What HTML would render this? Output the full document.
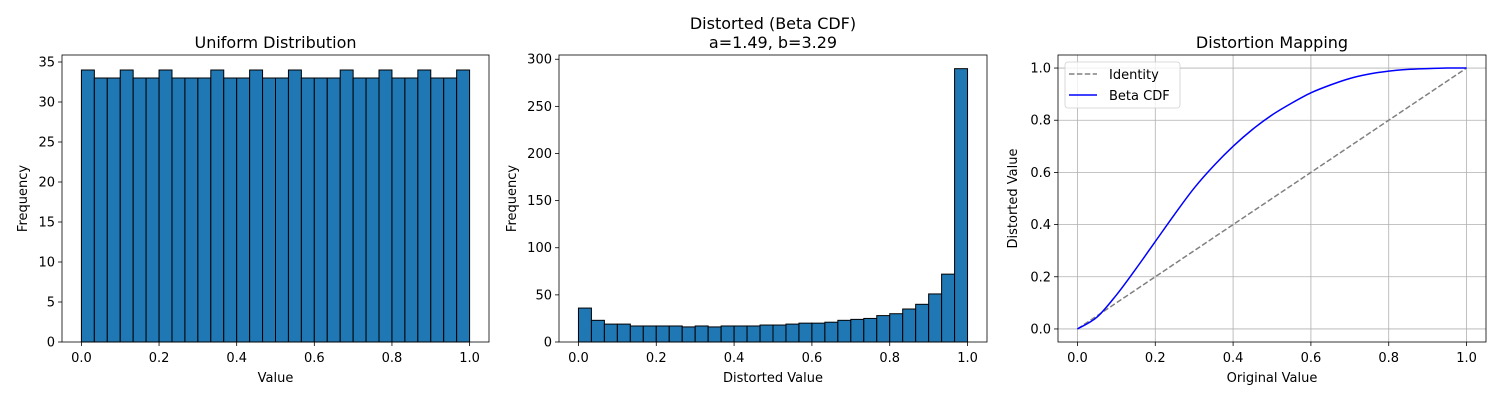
<!DOCTYPE html>
<html><head><meta charset="utf-8"><style>
body{margin:0;background:#fff;font-family:"Liberation Sans","DejaVu Sans",sans-serif;}
svg text{font-family:"DejaVu Sans","Liberation Sans",sans-serif;}
</style></head><body>
<svg id="fig" width="1500" height="400" xmlns="http://www.w3.org/2000/svg"></svg>
<script>
const uniformCounts=[34,33,33,34,33,33,34,33,33,33,34,33,33,34,33,33,34,33,33,33,34,33,33,34,33,33,34,33,33,34];
const distortedCounts=[36,23,19,19,17,17,17,17,16,17,16,17,17,17,18,18,19,20,20,21,23,24,25,28,30,35,40,51,72,290];
const curveX=[0,0.05,0.1,0.15,0.2,0.25,0.3,0.35,0.4,0.45,0.5,0.55,0.6,0.65,0.7,0.75,0.8,0.85,0.9,0.95,1];
const curveY=[0,0.045,0.13,0.23,0.335,0.44,0.54,0.625,0.70,0.765,0.82,0.865,0.905,0.935,0.96,0.977,0.988,0.995,0.998,1,1];
const xTicks=[0,0.2,0.4,0.6,0.8,1.0];
const y1Ticks=[0,5,10,15,20,25,30,35];
const y2Ticks=[0,50,100,150,200,250,300];
const y3Ticks=[0,0.2,0.4,0.6,0.8,1.0];
const NS="http://www.w3.org/2000/svg";
const svg=document.getElementById('fig');
function mk(tag,attrs,parent,text){const e=document.createElementNS(NS,tag);for(const k in attrs)e.setAttribute(k,attrs[k]);if(text!==undefined)e.textContent=text;(parent||svg).appendChild(e);return e;}
function panel(L,R,T,B,xmin,xmax,ymin,ymax,name){
  const g=mk('g',{});
  
  
  return {g,L,R,T,B,sx:v=>L+(v-xmin)/(xmax-xmin)*(R-L),sy:v=>B-(v-ymin)/(ymax-ymin)*(B-T)};
}
function axes(p,yt,fmtY,xlabel,ylabel,title,grid,ylx){
  if(grid){
    xTicks.forEach(v=>{const l=mk('line',{x1:p.sx(v),x2:p.sx(v),y1:p.T,y2:p.B,stroke:'#b0b0b0','stroke-width':0.8},p.g);});
    yt.forEach(v=>{const l=mk('line',{x1:p.L,x2:p.R,y1:p.sy(v),y2:p.sy(v),stroke:'#b0b0b0','stroke-width':0.8},p.g);});
  }
  xTicks.forEach(v=>{const x=p.sx(v);mk('line',{x1:x,x2:x,y1:p.B,y2:p.B+4,stroke:'#000','stroke-width':0.8},p.g);
    const t=mk('text',{x:x,y:p.B+20,'font-size':13,'text-anchor':'middle'},p.g,v.toFixed(1));});
  yt.forEach(v=>{const y=p.sy(v);mk('line',{x1:p.L-4,x2:p.L,y1:y,y2:y,stroke:'#000','stroke-width':0.8},p.g);
    const t=mk('text',{x:p.L-7,y:y+4.5,'font-size':13,'text-anchor':'end'},p.g,fmtY(v));});
  const r=mk('rect',{x:p.L,y:p.T,width:p.R-p.L,height:p.B-p.T,fill:'none',stroke:'#000','stroke-width':0.8},p.g);
  
  const xl=mk('text',{x:(p.L+p.R)/2,y:p.B+40,'font-size':13,'text-anchor':'middle'},p.g,xlabel);
  
  const yx=ylx;
  const yl=mk('text',{x:yx,y:(p.T+p.B)/2,'font-size':13,'text-anchor':'middle',transform:`rotate(-90 ${yx} ${(p.T+p.B)/2})`},p.g,ylabel);
  
  title.forEach((s,i)=>{const t=mk('text',{x:(p.L+p.R)/2,y:p.T-7-(title.length-1-i)*19,'font-size':16,'text-anchor':'middle'},p.g,s);});
}
function hist(p,counts){
  const n=counts.length;
  counts.forEach((c,i)=>{const x0=p.sx(i/n),x1=p.sx((i+1)/n),y=p.sy(c);
    const b=mk('rect',{x:x0,y:y,width:x1-x0,height:p.sy(0)-y,fill:'#1f77b4',stroke:'#000','stroke-width':1},p.g);
    });
}
const p1=panel(62,489,55,342,-0.05,1.05,0,35.875,'uniform-histogram');
hist(p1,uniformCounts);
axes(p1,y1Ticks,v=>String(v),'Value','Frequency',['Uniform Distribution'],false,27);
const p2=panel(559,987,55,342,-0.05,1.05,0,304.5,'distorted-histogram');
hist(p2,distortedCounts);
axes(p2,y2Ticks,v=>String(v),'Distorted Value','Frequency',['Distorted (Beta CDF)','a=1.49, b=3.29'],false,516);
const p3=panel(1058,1486,55,342,-0.05,1.05,-0.05,1.05,'distortion-mapping');
axes(p3,y3Ticks,v=>v.toFixed(1),'Original Value','Distorted Value',['Distortion Mapping'],true,1017);
const idl=mk('line',{x1:p3.sx(0),y1:p3.sy(0),x2:p3.sx(1),y2:p3.sy(1),stroke:'#808080','stroke-width':1.5,'stroke-dasharray':'5.5,2.4'},p3.g);

const pts=curveX.map((x,i)=>[p3.sx(x),p3.sy(curveY[i])]);
let d='M'+pts[0][0]+','+pts[0][1];
for(let i=0;i<pts.length-1;i++){const p0=pts[Math.max(0,i-1)],a=pts[i],b=pts[i+1],p4=pts[Math.min(pts.length-1,i+2)];
  d+=` C${a[0]+(b[0]-p0[0])/6},${a[1]+(b[1]-p0[1])/6} ${b[0]-(p4[0]-a[0])/6},${b[1]-(p4[1]-a[1])/6} ${b[0]},${b[1]}`;}
const cl=mk('path',{d:d,fill:'none',stroke:'#0000ff','stroke-width':1.5},p3.g);

const lg=mk('g',{},p3.g);

mk('rect',{x:1065,y:62,width:115,height:46,rx:3,fill:'#fff','fill-opacity':0.8,stroke:'#d0d0d0','stroke-width':0.8},lg);
mk('line',{x1:1069,x2:1097,y1:74,y2:74,stroke:'#808080','stroke-width':1.5,'stroke-dasharray':'5.5,2.4'},lg);
const t1=mk('text',{x:1109,y:79,'font-size':13},lg,'Identity');
mk('line',{x1:1069,x2:1097,y1:95,y2:95,stroke:'#0000ff','stroke-width':1.5},lg);
const t2=mk('text',{x:1109,y:100,'font-size':13},lg,'Beta CDF');
</script>
</body></html>
